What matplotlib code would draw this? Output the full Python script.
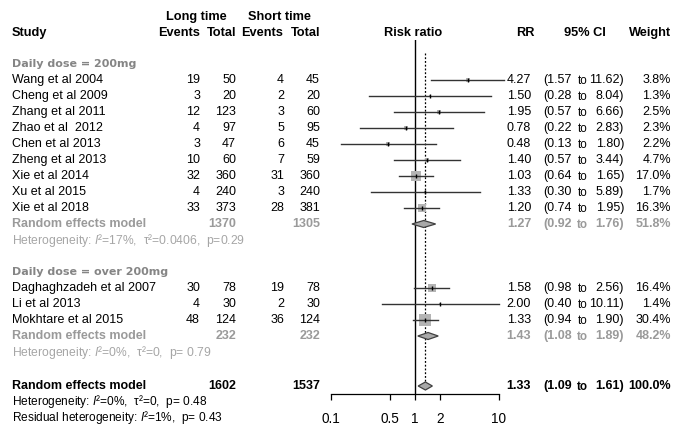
import numpy as np
import matplotlib
matplotlib.use("Agg")
import matplotlib.pyplot as plt

plt.rcParams["font.family"] = ["Liberation Sans", "DejaVu Sans"]
plt.rcParams["mathtext.fontset"] = "custom"
plt.rcParams["mathtext.rm"] = "Liberation Sans"
plt.rcParams["mathtext.it"] = "Liberation Sans:italic"

# --- data ---
studies1 = ["Wang et al 2004", "Cheng et al 2009", "Zhang et al 2011", "Zhao et al  2012",
            "Chen et al 2013", "Zheng et al 2013", "Xie et al 2014", "Xu et al 2015", "Xie et al 2018"]
ev_long1 = [19, 3, 12, 4, 3, 10, 32, 4, 33]
n_long1 = [50, 20, 123, 97, 47, 60, 360, 240, 373]
ev_short1 = [4, 2, 3, 5, 6, 7, 31, 3, 28]
n_short1 = [45, 20, 60, 95, 45, 59, 360, 240, 381]
rr1 = [4.27, 1.50, 1.95, 0.78, 0.48, 1.40, 1.03, 1.33, 1.20]
lo1 = [1.57, 0.28, 0.57, 0.22, 0.13, 0.57, 0.64, 0.30, 0.74]
hi1 = [11.62, 8.04, 6.66, 2.83, 1.80, 3.44, 1.65, 5.89, 1.95]
w1 = [3.8, 1.3, 2.5, 2.3, 2.2, 4.7, 17.0, 1.7, 16.3]

studies2 = ["Daghaghzadeh et al 2007", "Li et al 2013", "Mokhtare et al 2015"]
ev_long2 = [30, 4, 48]
n_long2 = [78, 30, 124]
ev_short2 = [19, 2, 36]
n_short2 = [78, 30, 124]
rr2 = [1.58, 2.00, 1.33]
lo2 = [0.98, 0.40, 0.94]
hi2 = [2.56, 10.11, 1.90]
w2 = [16.4, 1.4, 30.4]

group_labels = ["Daily dose = 200mg", "Daily dose = over 200mg"]
sub_rr = [1.27, 1.43]
sub_lo = [0.92, 1.08]
sub_hi = [1.76, 1.89]
sub_w = [51.8, 48.2]
sub_n_long = [1370, 232]
sub_n_short = [1305, 232]
sub_het = ["Heterogeneity: $I$\u00b2=17%,  \u03c4\u00b2=0.0406,  p=0.29",
           "Heterogeneity: $I$\u00b2=0%,  \u03c4\u00b2=0,  p= 0.79"]

tot_rr, tot_lo, tot_hi, tot_w = 1.33, 1.09, 1.61, 100.0
tot_n_long, tot_n_short = 1602, 1537
tot_het = "Heterogeneity: $I$\u00b2=0%,  \u03c4\u00b2=0,  p= 0.48"
resid_het = "Residual heterogeneity: $I$\u00b2=1%,  p= 0.43"

ticks = [0.1, 0.5, 1, 2, 10]

# --- layout (pixels, rows of 16 px) ---
W, H = 675, 426

fig = plt.figure(figsize=(W / 100, H / 100), dpi=100)
tx = fig.add_axes([0, 0, 1, 1])
tx.set_xlim(0, W)
tx.set_ylim((H - 80) / 16, -80 / 16)
tx.axis("off")

fx = fig.add_axes([331 / W, (H - 394) / H, 168 / W, (394 - 40) / H])
fx.set_xscale("log")
fx.set_xlim(0.1, 10)
fx.set_ylim((394 - 80) / 16, (40 - 80) / 16)
fx.patch.set_visible(False)
for s in ["top", "left", "right"]:
    fx.spines[s].set_visible(False)
fx.set_yticks([])
fx.set_xticks(ticks)
fx.set_xticklabels([f"{t:g}" for t in ticks], fontsize=9.8)
fx.xaxis.set_minor_locator(matplotlib.ticker.NullLocator())
fx.tick_params(axis="x", direction="out", length=4.5, width=0.9, pad=8.5)
fx.spines["bottom"].set_linewidth(0.9)

FS = 9.0
GREY = "#9a9a9a"
HGREY = "#a6a6a6"

def num(x, r, s, **kw):
    tx.text(x, r, str(s), ha="right", va="center", fontsize=FS, **kw)

def ci_text(r, rr, lo, hi, w, **kw):
    tx.text(531, r, f"{rr:.2f}", ha="right", va="center", fontsize=FS, **kw)
    tx.text(572, r, f"({lo:.2f}", ha="right", va="center", fontsize=FS, **kw)
    tx.text(582.5, r + 0.06, "to", ha="center", va="center", fontsize=FS - 0.6, **kw)
    tx.text(624, r, f"{hi:.2f})", ha="right", va="center", fontsize=FS, **kw)
    tx.text(671, r, f"{w:.1f}%", ha="right", va="center", fontsize=FS, **kw)

def diamond(r, rr, lo, hi, h=0.25):
    fx.fill([lo, rr, hi, rr], [r, r - h, r, r + h], facecolor="#a8a8a8",
            edgecolor="#404040", linewidth=0.9, clip_on=False, zorder=4)

# headers
hdr = dict(fontsize=9.2, fontweight="bold", va="center")
r_top, r_hdr = (17 - 80) / 16, (33 - 80) / 16
tx.text(196, r_top, "Long time", ha="center", **hdr)
tx.text(280, r_top, "Short time", ha="center", **hdr)
tx.text(12, r_hdr, "Study", ha="left", **hdr)
tx.text(200, r_hdr, "Events", ha="right", **hdr)
tx.text(236, r_hdr, "Total", ha="right", **hdr)
tx.text(283, r_hdr, "Events", ha="right", **hdr)
tx.text(320, r_hdr, "Total", ha="right", **hdr)
tx.text(413, r_hdr, "Risk ratio", ha="center", **hdr)
tx.text(525, r_hdr, "RR", ha="center", **hdr)
tx.text(585, r_hdr, "95% CI", ha="center", **hdr)
tx.text(671, r_hdr, "Weight", ha="right", **hdr)

groups = [
    (studies1, ev_long1, n_long1, ev_short1, n_short1, rr1, lo1, hi1, w1, -1),
    (studies2, ev_long2, n_long2, ev_short2, n_short2, rr2, lo2, hi2, w2, 12),
]
for g, (names, el, nl, es, ns, rr, lo, hi, w, r0) in enumerate(groups):
    tx.text(12, r0, group_labels[g], ha="left", va="center", fontsize=8.0,
            fontweight="bold", color="#858585", family="DejaVu Sans")
    for i, name in enumerate(names):
        r = r0 + 1 + i
        tx.text(12, r, name, ha="left", va="center", fontsize=FS)
        num(200, r, el[i]); num(236, r, nl[i]); num(284, r, es[i]); num(320, r, ns[i])
        ci_text(r, rr[i], lo[i], hi[i], w[i])
        fx.plot([lo[i], hi[i]], [r, r], color="#333333", lw=1.0, clip_on=False, zorder=3)
        fx.plot(rr[i], r, marker="s", markersize=1.6 * np.sqrt(w[i]), color="#b4b4b4",
                markeredgewidth=0, clip_on=False, zorder=2)
        fx.plot(rr[i], r, marker="|", markersize=3.5, color="black", mew=1.0,
                clip_on=False, zorder=5)
    rs = r0 + 1 + len(names)
    tx.text(12, rs, "Random effects model", ha="left", va="center", fontsize=FS,
            fontweight="bold", color=GREY)
    num(236, rs, sub_n_long[g], fontweight="bold", color=GREY)
    num(320, rs, sub_n_short[g], fontweight="bold", color=GREY)
    ci_text(rs, sub_rr[g], sub_lo[g], sub_hi[g], sub_w[g], fontweight="bold", color=GREY)
    diamond(rs, sub_rr[g], sub_lo[g], sub_hi[g], h=0.22)
    tx.text(12, rs + 1.05, sub_het[g], ha="left", va="center", fontsize=FS - 0.3, color=HGREY)

# overall
r_tot = (386 - 80) / 16
tx.text(12, r_tot, "Random effects model", ha="left", va="center", fontsize=FS, fontweight="bold")
num(236, r_tot, tot_n_long, fontweight="bold")
num(320, r_tot, tot_n_short, fontweight="bold")
ci_text(r_tot, tot_rr, tot_lo, tot_hi, tot_w, fontweight="bold")
diamond(r_tot, tot_rr, tot_lo, tot_hi, h=0.25)
tx.text(12, (402 - 80) / 16, tot_het, ha="left", va="center", fontsize=FS - 0.4)
tx.text(12, (418 - 80) / 16, resid_het, ha="left", va="center", fontsize=FS - 0.4)

# reference lines
fx.axvline(1, color="black", lw=1.0, zorder=1)
fx.plot([tot_rr, tot_rr], [(53 - 80) / 16, (390 - 80) / 16], color="black", lw=0.9,
        linestyle=(0, (1.5, 1.5)), zorder=1)

fig.savefig("out.png", dpi=100)
